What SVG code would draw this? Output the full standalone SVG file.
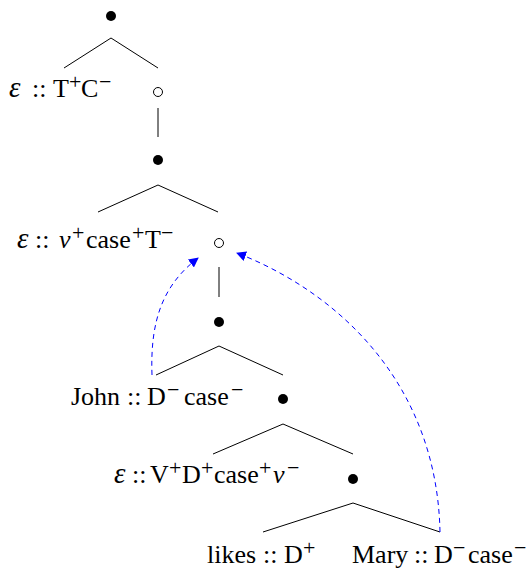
<svg xmlns="http://www.w3.org/2000/svg" width="527" height="569" viewBox="0 0 527 569">
<style>
.t{font-family:"Liberation Serif","Times New Roman",serif;font-size:26px;fill:#000}
.s{font-size:22px}
.i{font-style:italic}
.g{font-size:29px}
.e{fill:none;stroke:#000;stroke-width:1}
.b{fill:#000}
.o{fill:none;stroke:#000;stroke-width:1}
.m{fill:none;stroke:#0000ff;stroke-width:1;stroke-dasharray:5,4}
</style>
<defs>
<marker id="ah" viewBox="0 0 10 10" refX="9" refY="5" markerWidth="10" markerHeight="10" markerUnits="userSpaceOnUse" orient="auto">
<path d="M0,0 L10,5 L0,10 z" fill="#0000ff"/>
</marker>
</defs>
<g id="edges">
<path class="e" d="M64,68 L111,38 L158,68"/>
<path class="e" d="M158,108 L158,137"/>
<path class="e" d="M98,212 L158,185 L218,212"/>
<path class="e" d="M219,267 L219,297"/>
<path class="e" d="M156,375 L219,346 L283,375"/>
<path class="e" d="M213,454 L283,424 L353,454"/>
<path class="e" d="M263,532 L353,503 L440,532"/>
</g>
<g id="moves">
<path class="m" d="M152,375 C150,320 163,285 198,258" marker-end="url(#ah)"/>
<path class="m" d="M440,532 C437,385 340,293 237,253" marker-end="url(#ah)"/>
</g>
<g id="n1"><circle class="b" cx="111" cy="16" r="5"/></g>
<g id="n2"><text class="t" y="97"><tspan class="i g" x="9">ε</tspan><tspan x="32">::</tspan><tspan x="53">T</tspan><tspan class="s" x="69" y="89">+</tspan><tspan x="81" y="97">C</tspan><tspan class="s" x="99" y="89">−</tspan></text></g>
<g id="n3"><circle class="o" cx="158" cy="92" r="4.5"/></g>
<g id="n4"><circle class="b" cx="158" cy="160" r="5"/></g>
<g id="n5"><text class="t" y="248"><tspan class="i g" x="17">ε</tspan><tspan x="35">::</tspan><tspan class="i" x="59">v</tspan><tspan class="s" x="72" y="240">+</tspan><tspan x="86" y="248">case</tspan><tspan class="s" x="132" y="240">+</tspan><tspan x="145" y="248">T</tspan><tspan class="s" x="161" y="240">−</tspan></text></g>
<g id="n6"><circle class="o" cx="219" cy="243" r="4.5"/></g>
<g id="n7"><circle class="b" cx="219" cy="322" r="5"/></g>
<g id="n8"><text class="t" y="405"><tspan x="71">John</tspan><tspan x="127">::</tspan><tspan x="147">D</tspan><tspan class="s" x="167" y="397">−</tspan><tspan x="184" y="405">case</tspan><tspan class="s" x="231" y="397">−</tspan></text></g>
<g id="n9"><circle class="b" cx="283" cy="399" r="5"/></g>
<g id="n10"><text class="t" y="483"><tspan class="i g" x="114">ε</tspan><tspan x="132">::</tspan><tspan x="150">V</tspan><tspan class="s" x="169" y="475">+</tspan><tspan x="182" y="483">D</tspan><tspan class="s" x="201" y="475">+</tspan><tspan x="214" y="483">case</tspan><tspan class="s" x="259" y="475">+</tspan><tspan class="i" x="273" y="483">v</tspan><tspan class="s" x="287" y="475">−</tspan></text></g>
<g id="n11"><circle class="b" cx="353" cy="479" r="5"/></g>
<g id="n12"><text class="t" y="563"><tspan x="207">likes</tspan><tspan x="263">::</tspan><tspan x="284">D</tspan><tspan class="s" x="303" y="555">+</tspan></text></g>
<g id="n13"><text class="t" y="563"><tspan x="352">Mary</tspan><tspan x="414">::</tspan><tspan x="434">D</tspan><tspan class="s" x="453" y="555">−</tspan><tspan x="468" y="563">case</tspan><tspan class="s" x="514" y="555">−</tspan></text></g>
</svg>
